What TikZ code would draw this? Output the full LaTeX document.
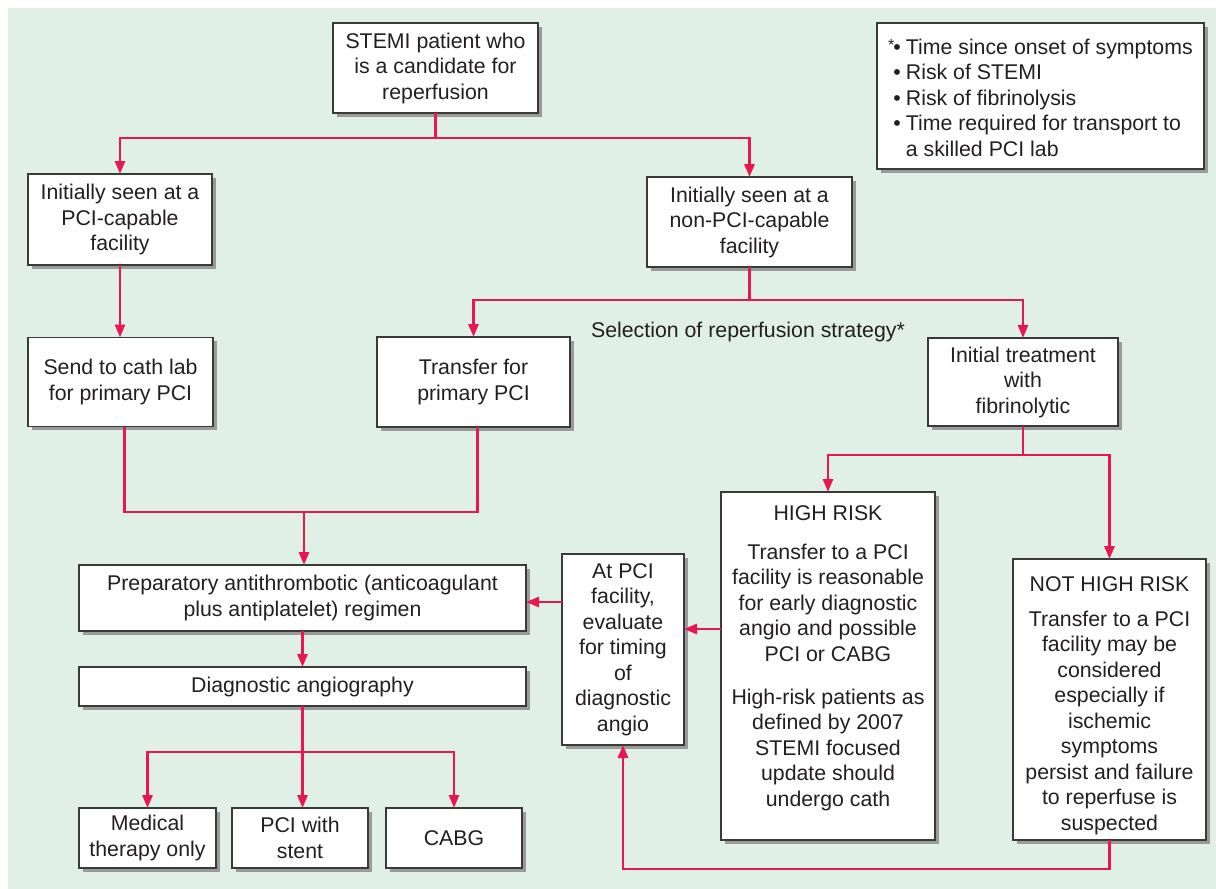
\documentclass[tikz,border=0pt]{standalone}
\usepackage{fontspec}
\setmainfont{Liberation Sans}
\usetikzlibrary{arrows.meta}
\definecolor{bg}{HTML}{E1F0E6}
\definecolor{ln}{HTML}{E8174F}
\definecolor{tx}{HTML}{231F20}
\definecolor{sh}{HTML}{9A9A9A}
\definecolor{bd}{HTML}{3A3A3A}
\newcommand\fsz{\fontsize{21.3}{25.5}\selectfont}
\begin{document}
\begin{tikzpicture}[x=1pt,y=-1pt,
 box/.style={draw=bd, line width=1.3pt, fill=white, inner sep=0pt, outer sep=0pt,
   align=center, text=tx, font=\fsz,
   preaction={fill=sh, transform canvas={shift={(3.5pt,-3.5pt)}}}},
 txt/.style={inner sep=0pt, align=center, text=tx, font=\fsz},
 conn/.style={draw=ln, line width=2.8pt},
 arr/.style={conn, -{Triangle[length=13pt,width=10pt]}},
]
\useasboundingbox (0,0) rectangle (1216,889);
\fill[white] (0,0) rectangle (1216,889);
\fill[bg] (8,8) rectangle (1216,889);

% boxes
\node[box, minimum width=205pt, minimum height=90pt] (stemi) at (435.5,68) {STEMI patient who\\is a candidate for\\reperfusion};
\node[box, minimum width=184pt, minimum height=91pt] (pcicap) at (120,219.5) {Initially seen at a\\PCI-capable\\facility};
\node[box, minimum width=205pt, minimum height=90pt] (noncap) at (749.5,222) {Initially seen at a\\non-PCI-capable\\facility};
\node[box, minimum width=327pt, minimum height=146pt] (note) at (1040.5,96) {};
\node[txt, yshift=-4pt] (notetext) at (note.center)
 {\begin{tabular}{@{}r@{\hspace{5pt}}l@{}}\raisebox{0.35ex}{\fontsize{16}{16}\selectfont*}\kern-1pt•&Time since onset of symptoms\\
 •&Risk of STEMI\\
 •&Risk of fibrinolysis\\
 •&Time required for transport to\\
 &a skilled PCI lab\end{tabular}};
\node[box, minimum width=185pt, minimum height=89pt] (send) at (120.5,382) {Send to cath lab\\for primary PCI};
\node[box, minimum width=193pt, minimum height=90pt] (transfer) at (473.5,382) {Transfer for\\primary PCI};
\node[box, minimum width=190pt, minimum height=88pt] (init) at (1023,382) {Initial treatment\\with\\fibrinolytic};
\node[txt] (sel) at (748,332) {Selection of reperfusion strategy*};

\node[box, minimum width=447pt, minimum height=66pt] (prep) at (302.5,598) {Preparatory antithrombotic (anticoagulant\\plus antiplatelet) regimen};
\node[box, minimum width=447pt, minimum height=39pt] (diag) at (302.5,686.5) {Diagnostic angiography};
\node[box, minimum width=122pt, minimum height=191pt] (atpci) at (623,649.5) {At PCI\\facility,\\evaluate\\for timing\\of\\diagnostic\\angio};
\node[box, minimum width=214pt, minimum height=348pt] (hr) at (828,666) {};
\node[txt, anchor=north, yshift=-13pt] (hrtext) at (hr.north) {HIGH RISK\\[13.5pt]Transfer to a PCI\\facility is reasonable\\for early diagnostic\\angio and possible\\PCI or CABG\\[17.5pt]High-risk patients as\\defined by 2007\\STEMI focused\\update should\\undergo cath};
\node[box, minimum width=193pt, minimum height=281pt] (nhr) at (1109.5,699.5) {};
\node[txt, anchor=north, yshift=-17pt] (nhrtext) at (nhr.north) {NOT HIGH RISK\\[9.5pt]Transfer to a PCI\\facility may be\\considered\\especially if\\ischemic\\symptoms\\persist and failure\\to reperfuse is\\suspected};

\node[box, minimum width=137pt, minimum height=60pt] (med) at (147.5,838) {Medical\\therapy only};
\node[box, minimum width=136pt, minimum height=60pt] (stent) at (300,838) {PCI with\\stent};
\node[box, minimum width=136pt, minimum height=60pt] (cabg) at (454,838) {CABG};

% connectors
\draw[arr] (stemi.south) -- ++(0,25) -| (pcicap.north);
\draw[arr] (stemi.south) -- ++(0,25) -| (noncap.north);
\draw[arr] (pcicap.south) -- (pcicap.south |- send.north);
\draw[arr] (noncap.south) -- ++(0,33) -| (transfer.north);
\draw[arr] (noncap.south) -- ++(0,33) -| (init.north);
\coordinate (merge) at (304,512);
\draw[conn] ([xshift=4pt]send.south) |- (merge) -| ([xshift=4pt]transfer.south);
\draw[arr] (merge) -- (merge |- prep.north);
\draw[arr] (init.south) -- ++(0,29) -| (hr.north);
\draw[arr] (init.south) -- ++(0,29) -| (nhr.north);
\draw[arr] ([yshift=37pt]hr.west) coordinate (h1) -- (atpci.east |- h1);
\draw[arr] ([yshift=47.5pt]atpci.west) coordinate (a1) -- (prep.east |- a1);
\draw[arr] (prep.south) -- (diag.north);
\draw[conn] (diag.south) -- ++(0,46) coordinate (b);
\draw[arr] (b) -| (med.north);
\draw[arr] (b) -| (cabg.north);
\draw[arr] (b) -- (b |- stent.north);
\draw[arr] (nhr.south) -- ++(0,29) -| (atpci.south);
\end{tikzpicture}
\end{document}
